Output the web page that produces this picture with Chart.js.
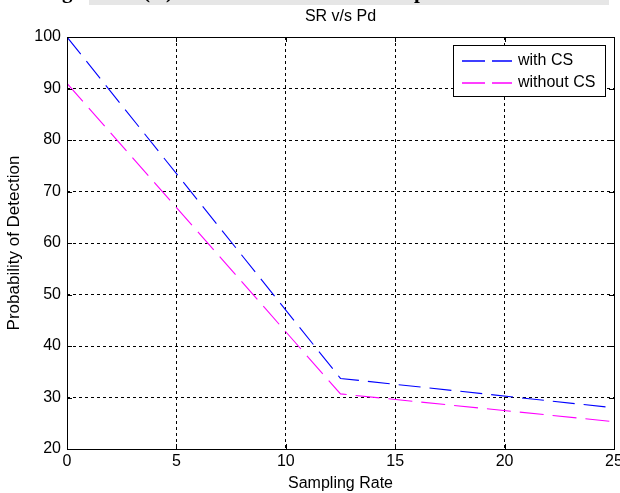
<!DOCTYPE html>
<html>
<head>
<meta charset="utf-8">
<script src="https://cdn.jsdelivr.net/npm/chart.js@4/dist/chart.umd.min.js"></script>
<style>
  html, body { margin: 0; padding: 0; background: #fff; }
  #wrap { position: relative; width: 620px; height: 493px; overflow: hidden; }
  #cap { position: absolute; left: 89px; top: 0; width: 520px; height: 5px; background: #e6e6e6; }
  .frag { position: absolute; top: -21px; font: bold 21px "Liberation Serif", serif; color: #000; }
  canvas { position: absolute; left: 0; top: 0; }
</style>
</head>
<body>
<div id="wrap">
  <canvas id="c" width="620" height="493"></canvas>
  <div id="cap"></div>
  <span class="frag" style="left:62px">g</span>
  <span class="frag" style="left:143px">(</span>
  <span class="frag" style="left:166px">)</span>
  <span class="frag" style="left:414px">p</span>
</div>
<script>
// ---- data ----
const samplingRate = [0, 12.5, 25];
const withCS = [100, 33.7, 28.0];
const withoutCS = [91.0, 30.7, 25.3];
const seriesLabels = ['with CS', 'without CS'];
const seriesColors = ['#0000ff', '#ff00ff'];
const chartTitle = 'SR v/s Pd';
const xTicks = [0, 5, 10, 15, 20, 25];
const yTicks = [20, 30, 40, 50, 60, 70, 80, 90, 100];

const FONT = '"Liberation Sans", Arial, sans-serif';

function pts(xs, ys) { return xs.map((x, i) => ({ x: x, y: ys[i] })); }

const boxPlugin = {
  id: 'boxPlugin',
  afterDatasetsDraw(chart) {
    const ctx = chart.ctx;
    const a = chart.chartArea;
    const xs = chart.scales.x, ys = chart.scales.y;
    ctx.save();
    ctx.strokeStyle = '#000';
    ctx.lineWidth = 1;
    ctx.setLineDash([]);
    // inward tick marks
    ctx.beginPath();
    xs.ticks.forEach(t => {
      const px = Math.round(xs.getPixelForValue(t.value)) + 0.5;
      ctx.moveTo(px, a.bottom); ctx.lineTo(px, a.bottom - 5);
      ctx.moveTo(px, a.top); ctx.lineTo(px, a.top + 5);
    });
    ys.ticks.forEach(t => {
      const py = Math.round(ys.getPixelForValue(t.value)) + 0.5;
      ctx.moveTo(a.left, py); ctx.lineTo(a.left + 5, py);
      ctx.moveTo(a.right, py); ctx.lineTo(a.right - 5, py);
    });
    ctx.stroke();
    // frame
    ctx.strokeRect(Math.round(a.left) + 0.5, Math.round(a.top) + 0.5,
                   Math.round(a.right - a.left), Math.round(a.bottom - a.top));
    // title centred over the axes
    ctx.fillStyle = '#000';
    ctx.font = '16px ' + FONT;
    ctx.textAlign = 'center';
    ctx.textBaseline = 'middle';
    ctx.fillText(chartTitle, (a.left + a.right) / 2, 17);
    // legend
    const lx = 453, ly = 45, lw = 152, lh = 51;
    ctx.fillStyle = '#fff';
    ctx.fillRect(lx, ly, lw, lh);
    ctx.strokeStyle = '#000';
    ctx.strokeRect(lx + 0.5, ly + 0.5, lw, lh);
    ctx.font = '16px ' + FONT;
    ctx.textBaseline = 'middle';
    ctx.textAlign = 'left';
    chart.data.datasets.forEach((ds, i) => {
      const yy = 60.5 + i * 22.5;
      ctx.strokeStyle = seriesColors[i];
      ctx.lineWidth = 1.5;
      ctx.setLineDash([23, 7]);
      ctx.beginPath();
      ctx.moveTo(462, Math.round(yy));
      ctx.lineTo(512, Math.round(yy));
      ctx.stroke();
      ctx.setLineDash([]);
      ctx.fillStyle = '#000';
      ctx.fillText(ds.label, 518, yy);
    });
    ctx.restore();
  }
};

new Chart(document.getElementById('c'), {
  type: 'line',
  data: {
    datasets: [
      { label: seriesLabels[0], data: pts(samplingRate, withCS), borderColor: seriesColors[0],
        borderWidth: 1.1, borderDash: [22, 9], pointRadius: 0, tension: 0, fill: false },
      { label: seriesLabels[1], data: pts(samplingRate, withoutCS), borderColor: seriesColors[1],
        borderWidth: 1.1, borderDash: [24, 9], pointRadius: 0, tension: 0, fill: false }
    ]
  },
  options: {
    responsive: false,
    animation: false,
    devicePixelRatio: 1,
    layout: { padding: { left: 0, right: 6, top: 37, bottom: 0 } },
    plugins: {
      legend: { display: false },
      tooltip: { enabled: false },
      title: { display: false }
    },
    scales: {
      x: {
        type: 'linear', min: 0, max: 25,
        afterBuildTicks(s) { s.ticks = xTicks.map(v => ({ value: v })); },
        afterFit(s) { s.height = 44; s.paddingRight = 0; s.paddingLeft = 0; },
        ticks: { color: '#000', font: { family: FONT, size: 16 }, padding: 3, maxRotation: 0, autoSkip: false },
        grid: { color: '#000', lineWidth: 1, drawTicks: false },
        border: { display: false, dash: [3, 3] },
        title: { display: true, text: 'Sampling Rate', color: '#000',
                 font: { family: FONT, size: 16 }, padding: { top: 0, bottom: 0 } }
      },
      y: {
        type: 'linear', min: 20, max: 100,
        afterBuildTicks(s) { s.ticks = yTicks.map(v => ({ value: v })); },
        afterFit(s) { s.width = 67; s.paddingTop = 0; },
        ticks: { color: '#000', font: { family: FONT, size: 16 }, padding: 6, autoSkip: false },
        grid: { color: '#000', lineWidth: 1, drawTicks: false },
        border: { display: false, dash: [3, 3] },
        title: { display: true, text: 'Probability of Detection', color: '#000',
                 font: { family: FONT, size: 17 }, padding: { top: 4, bottom: 0 } }
      }
    }
  },
  plugins: [boxPlugin]
});
</script>
</body>
</html>
